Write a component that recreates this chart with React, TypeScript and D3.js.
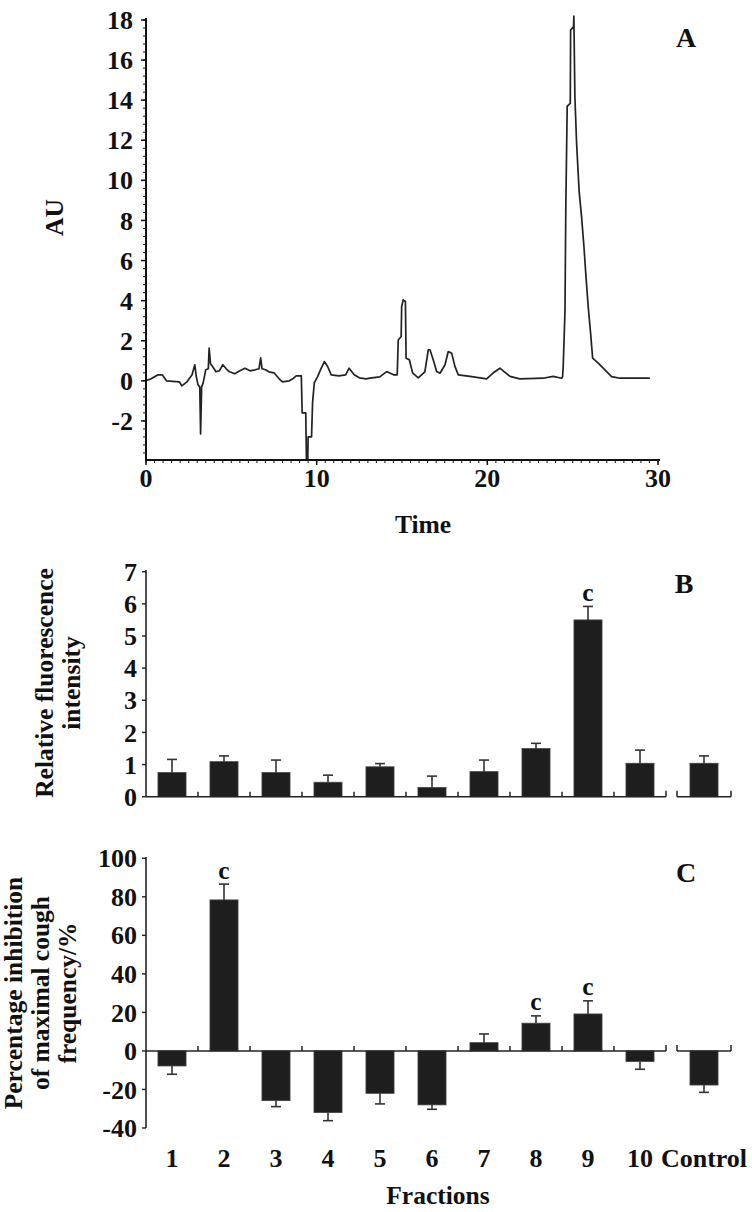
import React from 'react';
import * as d3 from 'd3';

// ---- Panel A: chromatogram (time, AU) ----
const chromT = [0, 0.3, 0.7, 0.95, 1.2, 1.95, 2.1, 2.4, 2.7, 2.86, 2.95, 3.05, 3.15, 3.2, 3.26, 3.35, 3.5, 3.65, 3.7, 3.78, 3.95, 4.1, 4.3, 4.5, 4.7, 4.9, 5.2, 5.5, 5.8, 6.1, 6.4, 6.62, 6.72, 6.8, 7.0, 7.2, 7.5, 7.8, 8.0, 8.4, 8.6, 8.8, 9.1, 9.15, 9.36, 9.4, 9.48, 9.5, 9.7, 9.76, 9.86, 10.05, 10.25, 10.45, 10.65, 10.85, 11.3, 11.7, 11.9, 12.2, 12.5, 12.9, 13.12, 13.7, 14.1, 14.5, 14.72, 14.78, 14.95, 14.98, 15.07, 15.2, 15.24, 15.43, 15.62, 15.95, 16.34, 16.54, 16.64, 16.83, 17.03, 17.23, 17.52, 17.71, 17.91, 18.1, 18.3, 18.98, 19.96, 20.35, 20.74, 21.0, 21.33, 21.9, 23.27, 23.86, 24.35, 24.41, 24.45, 24.55, 24.6, 24.68, 24.86, 24.88, 25.05, 25.07, 25.13, 25.23, 25.38, 25.52, 25.66, 25.78, 25.91, 26.05, 26.17, 26.5, 26.89, 27.28, 27.77, 29.52];
const chromAU = [0, 0.1, 0.3, 0.3, 0.0, -0.05, -0.25, -0.05, 0.3, 0.8, 0.2, -0.2, -0.3, -2.65, -0.3, -0.1, 0.55, 0.6, 1.63, 0.85, 0.65, 0.45, 0.5, 0.8, 0.6, 0.45, 0.35, 0.5, 0.63, 0.5, 0.55, 0.6, 1.15, 0.6, 0.55, 0.45, 0.4, 0.1, -0.05, 0.0, 0.1, 0.25, 0.25, -1.6, -1.6, -3.9, -3.9, -2.8, -2.8, -1.1, -0.1, 0.2, 0.6, 0.96, 0.7, 0.3, 0.25, 0.3, 0.63, 0.3, 0.15, 0.1, 0.13, 0.2, 0.46, 0.3, 0.3, 2.04, 2.21, 3.71, 4.04, 3.96, 1.13, 1.05, 0.4, 0.15, 0.45, 1.55, 1.55, 1.05, 0.47, 0.38, 0.8, 1.46, 1.38, 0.72, 0.3, 0.22, 0.1, 0.4, 0.63, 0.45, 0.22, 0.1, 0.13, 0.22, 0.13, 0.2, 0.8, 3.5, 8.78, 13.7, 13.84, 17.5, 17.67, 18.2, 14.2, 11.85, 9.44, 8.19, 6.7, 5.2, 3.7, 2.38, 1.13, 0.88, 0.55, 0.21, 0.13, 0.13];
const aXTicks = [0, 10, 20, 30];
const aYTicks = [-2, 0, 2, 4, 6, 8, 10, 12, 14, 16, 18];

// ---- Panels B and C: fractions ----
const fractions = ['1', '2', '3', '4', '5', '6', '7', '8', '9', '10'];
const controlCat = ['Control'];
const fluorMean = [0.75, 1.09, 0.75, 0.45, 0.93, 0.29, 0.78, 1.5, 5.5, 1.04];
const fluorErr = [0.41, 0.18, 0.39, 0.22, 0.1, 0.35, 0.36, 0.16, 0.42, 0.41];
const fluorControl = [1.04];
const fluorControlErr = [0.23];
const fluorSig = ['9'];
const bYTicks = [0, 1, 2, 3, 4, 5, 6, 7];

const coughMean = [-7.8, 78.4, -25.8, -32, -22, -28, 4.3, 14.4, 19.2, -5.5];
const coughErr = [4.3, 8.2, 3.1, 4.2, 5.5, 2.3, 4.5, 3.8, 6.8, 4.0];
const coughControl = [-17.7];
const coughControlErr = [3.8];
const coughSig = ['2', '8', '9'];
const cYTicks = [-40, -20, 0, 20, 40, 60, 80, 100];

const FONT = "'Liberation Serif','Times New Roman',serif";
const BAR = '#1e1e1e';
const TICK_FS = 26;
const LAB_FS = 25.5;

const xA = d3.scaleLinear().domain([0, 30]).range([146, 658]);
const yA = d3.scaleLinear().domain([-3.95, 18]).range([460, 20]);
const xBand = d3.scaleBand<string>().domain(fractions).range([146, 666]).paddingInner(0.46).paddingOuter(0.23);
const xCtrl = d3.scaleBand<string>().domain(controlCat).range([677, 731]).paddingInner(0.48).paddingOuter(0.24);
const yB = d3.scaleLinear().domain([0, 7]).range([796.7, 571.7]);
const yC = d3.scaleLinear().domain([-40, 100]).range([1128, 858.3]);

function Bars({ cats, scale, means, errs, y, sig }: any) {
  const y0 = y(0);
  return (
    <g>
      {cats.map((c: string, i: number) => {
        const v = means[i];
        const e = errs[i];
        const x = scale(c) as number;
        const w = scale.bandwidth();
        const cx = x + w / 2;
        const yv = y(v);
        const ye = y(v >= 0 ? v + e : v - e);
        return (
          <g key={c}>
            <rect x={x} y={Math.min(yv, y0)} width={w} height={Math.abs(yv - y0)} fill={BAR} stroke="#444" strokeWidth={0.8} />
            <line x1={cx} x2={cx} y1={yv} y2={ye} stroke="#333" strokeWidth={1.6} />
            <line x1={cx - 5} x2={cx + 5} y1={ye} y2={ye} stroke="#333" strokeWidth={1.6} />
            {sig.includes(c) && (
              <text x={cx} y={ye - 5.5} textAnchor="middle" fontFamily={FONT} fontWeight="bold" fontSize={LAB_FS} fill="#111">c</text>
            )}
          </g>
        );
      })}
    </g>
  );
}

function CatAxis({ y0 }: { y0: number }) {
  const step = xBand.step();
  const start = 146;
  const end = start + step * 10;
  const inner = d3.range(1, 10).map((i) => start + i * step);
  const c0 = 677, c1 = 731;
  return (
    <g stroke="#222" strokeWidth={1.5} fill="none">
      <line x1={start} x2={end} y1={y0} y2={y0} />
      {inner.map((x, i) => (
        <line key={i} x1={x} x2={x} y1={y0} y2={y0 - 5} />
      ))}
      <line x1={end} x2={end} y1={y0} y2={y0 - 6} />
      <line x1={c0} x2={c1} y1={y0} y2={y0} />
      <line x1={c0} x2={c0} y1={y0} y2={y0 - 6} />
      <line x1={c1} x2={c1} y1={y0} y2={y0 - 6} />
    </g>
  );
}

function YAxis({ y, ticks, top, bottom, labelX }: any) {
  return (
    <g>
      <line x1={146} x2={146} y1={top} y2={bottom} stroke="#222" strokeWidth={1.6} />
      {ticks.map((t: number) => (
        <g key={t}>
          <line x1={142} x2={146} y1={y(t)} y2={y(t)} stroke="#222" strokeWidth={1.4} />
          <text x={labelX} y={y(t)} dy="0.35em" textAnchor="end" fontFamily={FONT} fontWeight="bold" fontSize={TICK_FS} fill="#111">{t}</text>
        </g>
      ))}
    </g>
  );
}

export default function App() {
  const line = d3
    .line<number>()
    .x((_, i) => xA(chromT[i]))
    .y((d) => yA(d));
  const aMinorY = d3.range(18, -3.95, -0.4);
  const aMinorX = d3.range(0, 30.01, 0.5);
  const cBottom = yC(0);

  return (
    <svg width={752} height={1212} viewBox="0 0 752 1212" style={{ position: 'absolute', left: 0, top: 0, background: '#fff' }}>
      <rect x={0} y={0} width={752} height={1212} fill="#fff" />

      {/* ===== Panel A ===== */}
      <g>
        <path d={line(chromAU) || ''} fill="none" stroke="#222" strokeWidth={1.7} strokeLinejoin="round" />
        <line x1={146} x2={146} y1={18} y2={460} stroke="#111" strokeWidth={2} />
        {aMinorY.map((t, i) => (
          <line key={'my' + i} x1={143} x2={146} y1={yA(t)} y2={yA(t)} stroke="#222" strokeWidth={1.1} />
        ))}
        {aYTicks.map((t) => (
          <g key={'ay' + t}>
            <line x1={141} x2={146} y1={yA(t)} y2={yA(t)} stroke="#111" strokeWidth={1.5} />
            <text x={133} y={yA(t)} dy="0.35em" textAnchor="end" fontFamily={FONT} fontWeight="bold" fontSize={TICK_FS} fill="#111">{t}</text>
          </g>
        ))}
        <line x1={145} x2={660} y1={460} y2={460} stroke="#111" strokeWidth={2} />
        {aMinorX.map((t, i) => (
          <line key={'mx' + i} x1={xA(t)} x2={xA(t)} y1={460} y2={463} stroke="#222" strokeWidth={1.1} />
        ))}
        {aXTicks.map((t) => (
          <g key={'ax' + t}>
            <line x1={xA(t)} x2={xA(t)} y1={460} y2={465} stroke="#111" strokeWidth={1.5} />
            <text x={xA(t)} y={487} textAnchor="middle" fontFamily={FONT} fontWeight="bold" fontSize={TICK_FS} fill="#111">{t}</text>
          </g>
        ))}
        <text x={423} y={533} textAnchor="middle" fontFamily={FONT} fontWeight="bold" fontSize={LAB_FS} fill="#111">Time</text>
        <text transform="translate(63,217.5) rotate(-90)" textAnchor="middle" fontFamily={FONT} fontWeight="bold" fontSize={LAB_FS} fill="#111">AU</text>
        <text x={686} y={47} textAnchor="middle" fontFamily={FONT} fontWeight="bold" fontSize={28} fill="#111">A</text>
      </g>

      {/* ===== Panel B ===== */}
      <g>
        <Bars cats={fractions} scale={xBand} means={fluorMean} errs={fluorErr} y={yB} sig={fluorSig} />
        <Bars cats={controlCat} scale={xCtrl} means={fluorControl} errs={fluorControlErr} y={yB} sig={[]} />
        <YAxis y={yB} ticks={bYTicks} top={570} bottom={796.7} labelX={137} />
        <CatAxis y0={yB(0)} />
        <text transform="translate(0,683) rotate(-90)" textAnchor="middle" fontFamily={FONT} fontWeight="bold" fontSize={LAB_FS} fill="#111">
          <tspan x={0} y={53}>Relative fluorescence</tspan>
          <tspan x={0} y={80}>intensity</tspan>
        </text>
        <text x={684} y={593} textAnchor="middle" fontFamily={FONT} fontWeight="bold" fontSize={28} fill="#111">B</text>
      </g>

      {/* ===== Panel C ===== */}
      <g>
        <Bars cats={fractions} scale={xBand} means={coughMean} errs={coughErr} y={yC} sig={coughSig} />
        <Bars cats={controlCat} scale={xCtrl} means={coughControl} errs={coughControlErr} y={yC} sig={[]} />
        <YAxis y={yC} ticks={cYTicks} top={857} bottom={1128} labelX={137} />
        <CatAxis y0={cBottom} />
        {fractions.map((f) => (
          <text key={'xl' + f} x={(xBand(f) as number) + xBand.bandwidth() / 2} y={1167} textAnchor="middle" fontFamily={FONT} fontWeight="bold" fontSize={TICK_FS} fill="#111">{f}</text>
        ))}
        {controlCat.map((f) => (
          <text key={'xc' + f} x={(xCtrl(f) as number) + xCtrl.bandwidth() / 2} y={1167} textAnchor="middle" fontFamily={FONT} fontWeight="bold" fontSize={TICK_FS} fill="#111">{f}</text>
        ))}
        <text x={438} y={1204} textAnchor="middle" fontFamily={FONT} fontWeight="bold" fontSize={LAB_FS} fill="#111">Fractions</text>
        <text transform="translate(0,993) rotate(-90)" textAnchor="middle" fontFamily={FONT} fontWeight="bold" fontSize={LAB_FS} fill="#111">
          <tspan x={0} y={22}>Percentage inhibition</tspan>
          <tspan x={0} y={49}>of maximal cough</tspan>
          <tspan x={0} y={76}>frequency/%</tspan>
        </text>
        <text x={686} y={882} textAnchor="middle" fontFamily={FONT} fontWeight="bold" fontSize={28} fill="#111">C</text>
      </g>
    </svg>
  );
}
